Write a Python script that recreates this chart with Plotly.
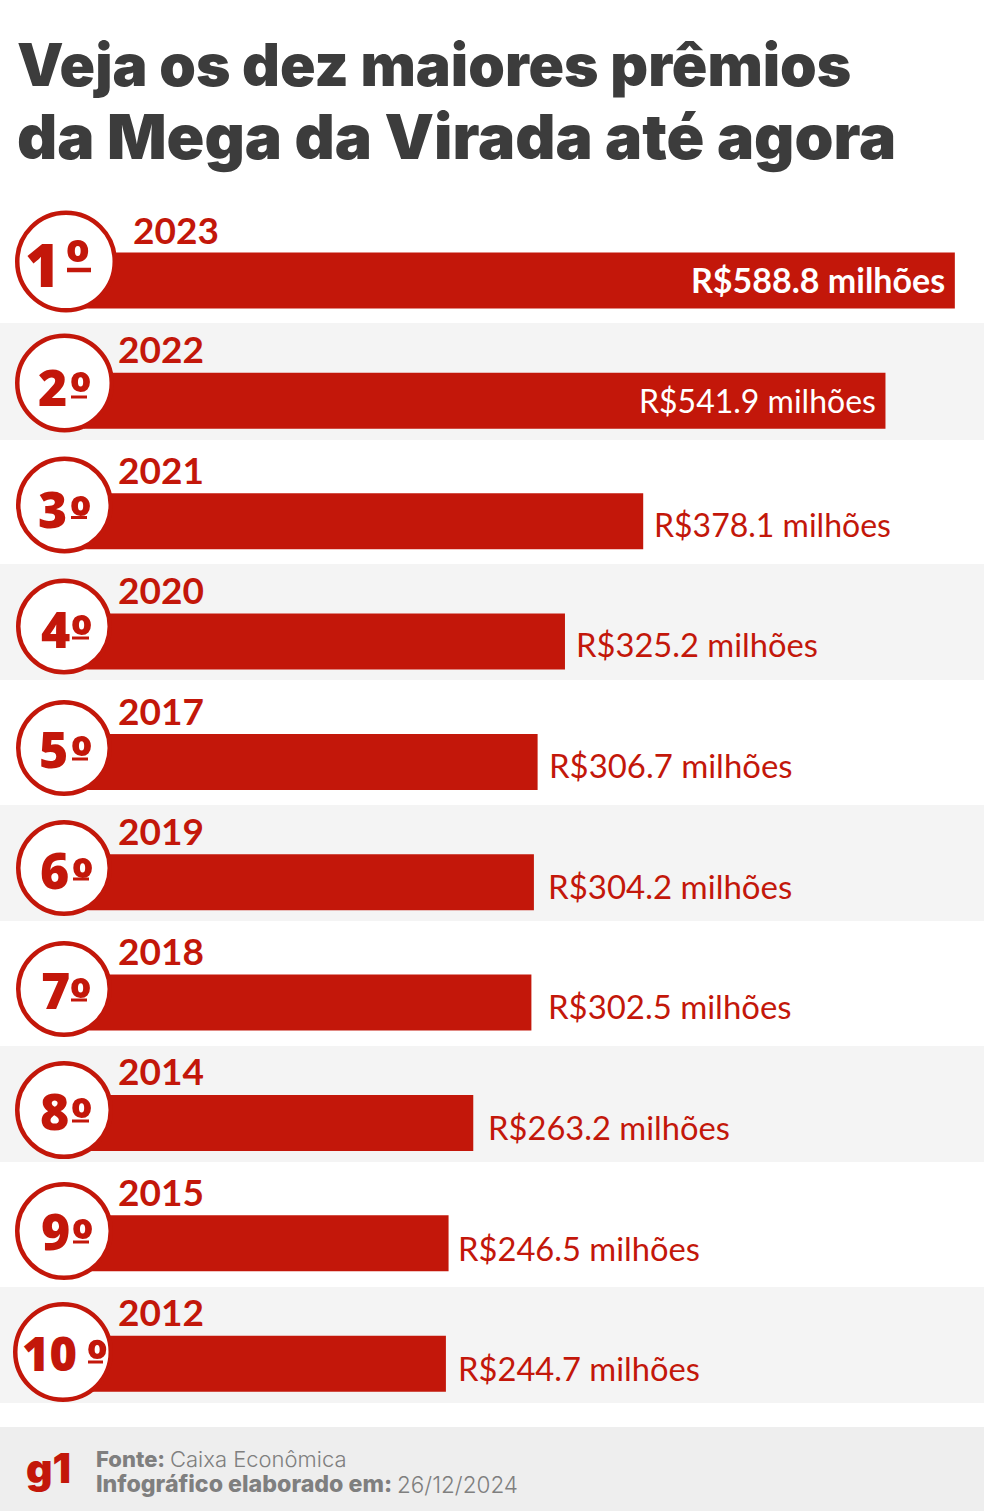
import plotly.graph_objects as go

# prize values, biggest first
ranks = [1, 2, 3, 4, 5, 6, 7, 8, 9, 10]
years = ["2023", "2022", "2021", "2020", "2017", "2019", "2018", "2014", "2015", "2012"]
premios = [588.8, 541.9, 378.1, 325.2, 306.7, 304.2, 302.5, 263.2, 246.5, 244.7]
ordinais = ["1", "2", "3", "4", "5", "6", "7", "8", "9", "10"]

W, H = 984, 1511
RED = "#c3170a"
GREY_BAND = "#f4f4f4"
FONT = "Lato"
HEAVY = "Inter"

# axis calibration: bar zero sits at x=84px, 1.479 px per R$ million
X0, XS = 84, 1.479
Y0, YS = 280.5, 120.35
x_range = [-X0 / XS, (W - X0) / XS]
y_range = [1 + (H - Y0) / YS, 1 - Y0 / YS]


def px_x(px):
    return (px - X0) / XS


def px_y(py):
    return 1 + (py - Y0) / YS


fig = go.Figure()

# zebra bands
bands = [(323, 440), (564, 680), (805, 921), (1046, 1162), (1287, 1403)]
shapes = [
    dict(type="rect", xref="paper", yref="paper", x0=0, x1=1, y0=1 - b / H, y1=1 - a / H,
         fillcolor=GREY_BAND, line_width=0, layer="below")
    for a, b in bands
]
shapes.append(dict(type="rect", xref="paper", yref="paper", x0=0, x1=1, y0=0, y1=1 - 1427 / H,
                   fillcolor="#eeeeee", line_width=0, layer="below"))

fig.add_trace(go.Bar(
    x=premios, y=ranks, orientation="h", width=0.465,
    marker=dict(color=RED, line_width=0), hoverinfo="skip",
))

# medal circles
circle_px_x = [66, 64.5, 64.5, 64, 64, 64, 64, 64, 64, 63]
circle_px_y = [261.5, 383, 505, 626.5, 748, 868, 989, 1110, 1231, 1352]
circle_d = [102, 99, 97, 96, 96, 96, 96, 98, 98, 100]
fig.add_trace(go.Scatter(
    x=[px_x(p) for p in circle_px_x],
    y=[px_y(p) for p in circle_px_y],
    mode="markers",
    marker=dict(size=[d - 4.5 for d in circle_d], color="white", opacity=1,
                line=dict(color=RED, width=4.5)),
    hoverinfo="skip",
))

ann = []


def label(text, x, y, size, color, weight=400, anchor="left", xref="x", yref="y",
          xshift=0, yshift=0, family=FONT):
    ann.append(dict(
        text=text, x=x, y=y, xref=xref, yref=yref, xanchor=anchor, yanchor="middle",
        xshift=xshift, yshift=yshift, showarrow=False, borderpad=0, borderwidth=0,
        font=dict(family=family, size=size, color=color, weight=weight),
    ))


# title
label("Veja os dez maiores prêmios", 17 / W, 1 - 64.5 / H, 58.7, "#3c3c3c", 900, xref="paper", yref="paper", family=HEAVY)
label("da Mega da Virada até agora", 17 / W, 1 - 136.5 / H, 62.4, "#3c3c3c", 900, xref="paper", yref="paper", family=HEAVY)

# years, ordinals and values
year_px = [133, 118, 118, 118, 118, 118, 118, 118, 118, 118]
year_dy = [-51, -52, -52, -52, -51, -52, -52, -52, -52, -52]
digit_right = [60, 67, 67, 70, 68, 69, 70, 69, 70, 77]
digit_y = [264, 387, 508.5, 628.5, 749, 870, 990, 1111, 1231, 1352.5]
digit_size = [60, 50, 50, 50, 50, 50, 50, 50, 50, 47]
ord_left = [66, 70, 70, 71, 71, 72, 70, 71, 72, 87]
ord_y = [261, 390, 514, 632.5, 753.5, 875.5, 995.5, 1116, 1236.5, 1357]
ord_size = [60, 54, 54, 54, 54, 54, 54, 54, 54, 52]
rule_x = [67, 71, 71, 72, 72, 73, 71, 72, 73, 88]
rule_y = [270, 397, 517.5, 638, 759, 879, 1000, 1121, 1242, 1362]
rule_h = [4.5, 3, 3, 3, 3, 3, 3, 3, 3, 3]
rule_w = [24, 16, 16, 17, 16, 16, 16, 17, 16, 15]
val_size = [34, 32, 32, 32.7, 32.9, 33, 32.9, 32.7, 32.7, 32.7]
val_shift = [-10, -9, 11, 11, 11, 14, 17, 15, 9, 12]
val_dy = [1, 0, -3, -3, -4, -4, -4, -5, -5, -5]
for i, r in enumerate(ranks):
    label(years[i], px_x(year_px[i]), r + year_dy[i] / YS, 37, RED, 700)
    label(ordinais[i], px_x(digit_right[i]), px_y(digit_y[i]), digit_size[i], RED, 900,
          anchor="right", family="Noto Sans")
    label("º", px_x(ord_left[i]), px_y(ord_y[i]), ord_size[i], RED, 900, family="Noto Sans")
    shapes.append(dict(
        type="rect", xref="x", yref="y", layer="above", line_width=0, fillcolor=RED,
        x0=px_x(rule_x[i]), x1=px_x(rule_x[i] + rule_w[i]),
        y0=px_y(rule_y[i] - rule_h[i] / 2), y1=px_y(rule_y[i] + rule_h[i] / 2),
    ))
    txt = f"R${premios[i]:.1f} milhões"
    if i == 0:
        label(txt, premios[i], r, val_size[i], "white", 700, anchor="right", xshift=val_shift[i], yshift=val_dy[i])
    elif i == 1:
        label(txt, premios[i], r, val_size[i], "white", 400, anchor="right", xshift=val_shift[i], yshift=val_dy[i])
    else:
        label(txt, premios[i], r, val_size[i], RED, 400, xshift=val_shift[i], yshift=val_dy[i])

# footer
GREY = "#7f7f7f"
label("g1", 26 / W, 1 - 1468 / H, 41, RED, 900, xref="paper", yref="paper", family=HEAVY)
label("Fonte:", 96 / W, 1 - 1459 / H, 22, GREY, 800, xref="paper", yref="paper", family=HEAVY)
label("Caixa Econômica", 170 / W, 1 - 1459 / H, 22, GREY, 300, xref="paper", yref="paper", family=HEAVY)
label("Infográfico elaborado em:", 96 / W, 1 - 1484 / H, 23.2, GREY, 800, xref="paper", yref="paper", family=HEAVY)
label("26/12/2024", 397 / W, 1 - 1484 / H, 22.5, GREY, 300, xref="paper", yref="paper", family=HEAVY)

fig.update_layout(
    width=W, height=H,
    margin=dict(l=0, r=0, t=0, b=0),
    paper_bgcolor="white", plot_bgcolor="rgba(0,0,0,0)",
    showlegend=False,
    shapes=shapes, annotations=ann,
    xaxis=dict(range=x_range, visible=False, fixedrange=True),
    yaxis=dict(range=y_range, visible=False, fixedrange=True),
)

fig.write_html("out.html", post_script="document.body.style.margin='0';", config=dict(displayModeBar=False))
